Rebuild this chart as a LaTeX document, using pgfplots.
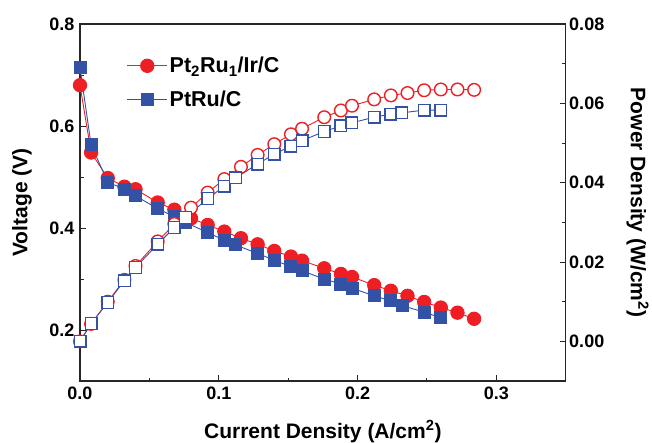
\documentclass[border=0pt]{standalone}
\usepackage{pgfplots}
\pgfplotsset{compat=1.18}
\usepackage{pgfplotstable}
\usepackage{fontspec}
\setmainfont{Liberation Sans}
\definecolor{myred}{RGB}{237,30,36}
\definecolor{myblue}{RGB}{52,82,165}

\pgfplotstableread{
x v
0.000 0.680
0.008 0.548
0.020 0.498
0.032 0.481
0.040 0.476
0.056 0.450
0.068 0.436
0.080 0.419
0.092 0.406
0.104 0.393
0.116 0.380
0.128 0.368
0.140 0.355
0.152 0.344
0.160 0.336
0.176 0.321
0.188 0.310
0.196 0.304
0.212 0.288
0.224 0.277
0.236 0.267
0.248 0.255
0.260 0.244
0.272 0.234
0.284 0.222
}\redV

\pgfplotstableread{
x v
0.000 0.714
0.008 0.563
0.020 0.490
0.032 0.476
0.040 0.463
0.056 0.438
0.068 0.422
0.076 0.411
0.092 0.391
0.104 0.376
0.112 0.367
0.128 0.350
0.140 0.337
0.152 0.324
0.160 0.316
0.176 0.300
0.188 0.290
0.196 0.282
0.212 0.267
0.224 0.257
0.232 0.248
0.248 0.235
0.260 0.224
}\blueV

\pgfplotstableread{
x p
0.000 0.0000
0.008 0.0044
0.020 0.0100
0.032 0.0155
0.040 0.0190
0.056 0.0252
0.068 0.0296
0.080 0.0337
0.092 0.0375
0.104 0.0409
0.116 0.0440
0.128 0.0470
0.140 0.0497
0.152 0.0522
0.160 0.0536
0.176 0.0565
0.188 0.0582
0.196 0.0594
0.212 0.0610
0.224 0.0620
0.236 0.0626
0.248 0.0633
0.260 0.0635
0.272 0.0635
0.284 0.0634
}\redP

\pgfplotstableread{
x p
0.000 0.0000
0.008 0.0045
0.020 0.0098
0.032 0.0153
0.040 0.0186
0.056 0.0245
0.068 0.0287
0.076 0.0312
0.092 0.0360
0.104 0.0391
0.112 0.0412
0.128 0.0447
0.140 0.0472
0.152 0.0492
0.160 0.0506
0.176 0.0529
0.188 0.0543
0.196 0.0551
0.212 0.0565
0.224 0.0573
0.232 0.0576
0.248 0.0583
0.260 0.0583
}\blueP

\begin{document}
\begin{tikzpicture}
\pgfplotsset{
  every axis/.append style={
    scale only axis, width=485.7pt, height=357pt,
    xmin=0, xmax=0.35,
    clip=false,
    tick align=inside,
    major tick length=6pt, minor tick length=3.5pt,
    every tick/.style={line width=1pt, black!85},
    axis line style={line width=1.2pt, black!85},
    /pgf/number format/assume math mode=true,
    scaled x ticks=false, scaled y ticks=false,
    tick label style={font=\fontsize{18}{18}\selectfont\bfseries},
  }
}
\begin{axis}[
  ymin=0.1, ymax=0.8,
  xtick={0,0.1,0.2,0.3}, minor xtick={0.05,0.15,0.25},
  ytick={0.2,0.4,0.6,0.8}, minor ytick={0.3,0.5,0.7},
  xtick pos=left, ytick pos=left,
  xticklabel style={/pgf/number format/fixed, /pgf/number format/fixed zerofill, /pgf/number format/precision=1, yshift=-2pt},
  yticklabel style={/pgf/number format/fixed, /pgf/number format/fixed zerofill, /pgf/number format/precision=1, xshift=-2pt},
  every axis x label/.style={at={(axis description cs:0.5,-0.142)}, anchor=center, font=\fontsize{21}{21}\selectfont\bfseries},
  every axis y label/.style={at={(axis description cs:-0.1194,0.5)}, anchor=center, rotate=90, font=\fontsize{21}{21}\selectfont\bfseries},
  xlabel={Current Density (A/cm\textsuperscript{2})},
  ylabel={Voltage (V)},
  legend style={draw=none, fill=none, inner sep=0pt, at={(axis description cs:0.096,0.913)}, anchor=north west,
    font=\fontsize{21.5}{21.5}\selectfont\bfseries, row sep=13pt},
  legend cell align=left,
  legend image code/.code={\draw[mark repeat=2, mark phase=2, #1] plot coordinates {(0pt,0pt) (20pt,0pt) (40pt,0pt)};},
]
\addplot[myred, line width=0.9pt, mark=*, mark size=6.7pt, mark options={solid, fill=myred, draw=myred}] table[x=x, y=v] {\redV};
\addlegendentry{Pt\textsubscript{2}Ru\textsubscript{1}/Ir/C}
\addplot[myblue, line width=0.9pt, mark=square*, mark size=6pt, mark options={solid, fill=myblue, draw=myblue}] table[x=x, y=v] {\blueV};
\addlegendentry{PtRu/C}
\end{axis}
\begin{axis}[
  ymin=-0.01, ymax=0.08,
  axis y line*=right, axis x line=none,
  ytick={0,0.02,0.04,0.06,0.08}, minor ytick={0.01,0.03,0.05,0.07},
  yticklabel style={/pgf/number format/fixed, /pgf/number format/fixed zerofill, /pgf/number format/precision=2},
  every axis y label/.style={at={(axis description cs:1.148,0.5)}, anchor=center, rotate=-90, font=\fontsize{21}{21}\selectfont\bfseries},
  ylabel={Power Density (W/cm\textsuperscript{2})},
]
\addplot[myred, line width=0.9pt, mark=*, mark size=6.3pt, mark options={solid, fill=white, draw=myred, line width=1.4pt}] table[x=x, y=p] {\redP};
\addplot[myblue, line width=0.9pt, mark=square*, mark size=5.8pt, mark options={solid, fill=white, draw=myblue, line width=1.4pt}] table[x=x, y=p] {\blueP};
\end{axis}
\pgfresetboundingbox
\path[use as bounding box] (-80pt,-61pt) rectangle (572pt,381pt);
\end{tikzpicture}
\end{document}
